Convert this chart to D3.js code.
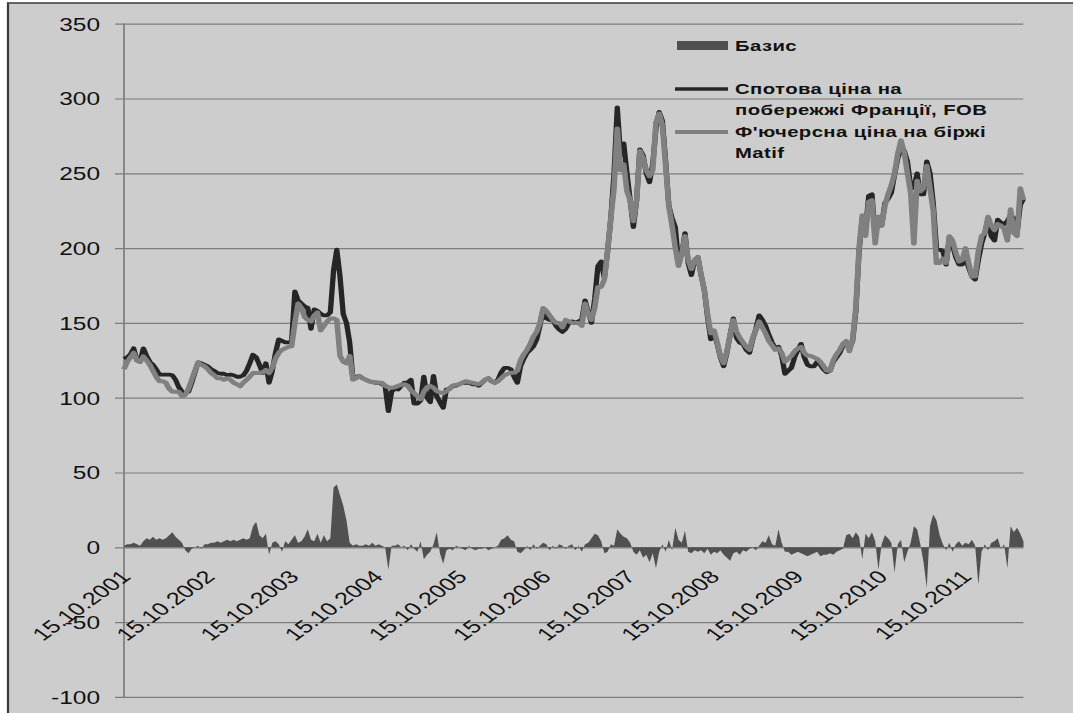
<!DOCTYPE html>
<html>
<head>
<meta charset="utf-8">
<script src="https://cdn.jsdelivr.net/npm/d3@7"></script>
<style>
  html, body { margin: 0; padding: 0; background: #ffffff; overflow: hidden; }
  svg { display: block; }
</style>
</head>
<body>
<svg id="chart" width="1073" height="713"></svg>
<script>
// Wheat prices, 2001–2012: spot FOB (French coast), Matif futures and basis.
// Observations every 14 days starting on 15.10.2001.
const startDate = "15.10.2001";
const stepDays = 14;

const spotFOB = [
  126, 127, 129, 133, 125, 124, 133, 128, 124, 122,
  119, 115.4, 115.4, 115.4, 115.4, 115, 112, 107, 104, 103,
  104, 110, 117, 123.6, 123, 122, 121, 119, 118, 116.5,
  116, 116, 115, 115.4, 115, 114, 114, 115, 118, 123,
  128.7, 127, 122, 116.5, 123, 110, 118, 130, 139, 138,
  137, 137, 137.6, 171, 165, 163, 161, 160, 146, 159,
  158, 156, 155, 155, 157, 185, 199, 181, 156, 150,
  137, 113, 114, 114.5, 113, 112, 111, 110.5, 110, 110,
  109, 108, 91, 104, 106, 105.5, 108, 110, 110, 112,
  96, 96, 98, 114, 100, 97, 114.5, 101, 97, 93.3,
  105.5, 106, 108, 108, 109, 110, 110, 110, 109, 109,
  108, 110, 112, 113, 111, 110, 112, 117, 120, 120,
  119, 114, 110, 121, 126, 130, 132, 134.4, 139, 148,
  159, 153, 152, 152, 148, 145.6, 144, 146, 150, 151,
  150, 151, 152, 165, 157, 150, 166, 188, 191, 180,
  198, 220, 250, 294, 262, 270, 250, 232, 214, 232,
  266, 262, 250, 244, 256, 280, 291, 285, 258, 228,
  220, 214, 190, 196, 210, 190, 182, 192, 194, 182,
  172, 154, 139, 143, 136, 127, 121, 130, 142, 153,
  140, 136.7, 136, 132, 130, 139, 146, 155, 152, 148,
  142, 137, 133, 134, 128, 116, 118, 120, 127, 132,
  136, 127, 122, 121, 121, 124, 122, 119, 117, 118,
  124, 127, 130, 135, 137, 133, 138, 158, 198, 220,
  212, 235, 236, 207, 221, 215, 230, 233, 237, 249,
  260, 266, 265, 258, 241, 240, 250, 236, 236, 258,
  250, 230, 200, 199, 198, 189, 207, 202, 194, 189,
  189, 194, 187, 181, 179, 192, 203, 210, 219, 208,
  205, 219, 217, 216, 218, 222, 220, 210, 229, 233
];

const futuresMatif = [
  119, 124, 127, 130, 125, 124, 127.6, 125, 122, 118,
  114, 111, 111, 110, 106, 104, 104, 104, 101, 102,
  106, 112, 118, 123.6, 122, 121, 119, 116.5, 115, 113,
  113, 112, 113, 112, 110, 109, 107.6, 110, 112, 114,
  116.5, 116.5, 116.5, 117, 118.6, 116.5, 120, 126, 130, 132,
  133, 134, 134.3, 150, 163, 160, 154, 152, 151, 155,
  157, 145, 148, 151, 153, 153, 152, 128, 124, 123,
  128, 112, 113, 114.5, 113, 112, 111, 110.5, 110, 110,
  110, 108, 107, 106.7, 107, 108, 108.5, 109, 108, 105,
  103, 101, 99, 104, 107, 108, 106.7, 104.4, 103.5, 103,
  104.4, 106, 108, 108.5, 109, 110, 111, 110.5, 110, 109.5,
  109, 110, 112, 113, 111, 110, 111, 113, 115, 116,
  116.7, 116.7, 118, 125, 129, 132, 136, 141, 144, 150,
  160, 158, 155, 152, 150, 150, 147, 152, 151, 150,
  150, 150, 148, 163, 156, 152, 160, 174, 174, 179,
  198, 220, 240, 280, 252, 256, 238, 232, 218, 232,
  265, 260, 252, 248, 252, 284, 290, 282, 255, 228,
  215, 200, 188, 196, 208, 192, 186, 192, 194, 182,
  172, 156, 143, 145, 137, 128, 123, 131, 142, 152,
  144, 140, 137, 134, 132, 140, 145, 151, 147, 143,
  138, 135, 132, 133, 130, 124, 126, 128, 131, 133,
  134, 130, 128, 128, 127, 126, 124, 121, 118, 118,
  125, 129, 132, 136, 138, 131, 139, 160, 200, 222,
  208, 231, 232, 203, 221, 215, 228, 236, 242, 250,
  263, 272, 264, 250, 237, 203, 245, 238, 240, 255,
  240, 225, 190, 190, 193, 190, 208, 205, 197, 191,
  192, 200, 190, 181, 181, 198, 208, 210, 221, 215,
  212, 216, 215, 213, 205, 226, 210, 208, 240, 232
];

const basisValues = [
  1, 2, 2, 3, 2, 1, 4, 6, 5, 7,
  5, 6, 5, 6, 8, 10, 7, 5, 3, -2,
  -4, -1, 0, 1, -1, 2, 2, 3, 3, 4,
  3, 4, 5, 4, 5, 4, 5, 6, 5, 6,
  14, 17, 8, 6, 9, -5, 3, 4, 2, -3,
  4, 2, 5, 8, 3, 4, 7, 12, 5, 4,
  9, 3, 8, 4, 6, 40, 42, 35, 28, 18,
  3, 1, 2, 1, 1, 2, 1, 3, 1, 2,
  1, 0, -15, 1, 1, 2, 0, 1, -2, 2,
  -1, -3, 4, -8, -5, -3, 2, 10, -4, -11,
  -2, -1, -2, 1, 0, -1, -2, 1, -1, -2,
  -1, -1, 0, -2, -1, 0, 1, 5, 6, 8,
  5, 4, -3, -4, -2, 1, -2, 2, -1, 1,
  3, 2, -2, 1, -1, 2, 1, -1, 1, 2,
  -2, 1, -3, 2, 3, 6, 9, 8, 4, -4,
  -3, 2, 1, 12, 9, 7, 6, 3, -3, -5,
  -2, -7, -5, -10, -4, -14, -3, 2, -3, 5,
  -2, 13, 5, 3, 11, -3, -4, -2, -3, -2,
  -4, -1, -5, -3, -4, -2, -5, -7, -9, -4,
  -3, -5, -2, -3, -1, 0, -2, 1, 4, 3,
  8, 2, 1, 12, 3, -3, -3, -5, -4, -3,
  -4, -5, -6, -5, -4, -3, -6, -5, -5, -4,
  -5, -3, -2, -1, 8, 9, 6, 10, 7, -8,
  9, 6, 10, 4, -15, 2, 8, 6, 3, -17,
  2, 5, -10, -3, 3, 14, 12, 2, -10, -27,
  14, 22, 18, 8, 2, -2, 3, -3, 2, 4,
  1, 3, 2, 5, 1, -25, -3, 2, -2, 3,
  4, 6, -1, 2, -14, 14, 10, 13, 9, 4
];

const yTickValues = [-100, -50, 0, 50, 100, 150, 200, 250, 300, 350];
const xTickLabels = [
  "15.10.2001", "15.10.2002", "15.10.2003", "15.10.2004", "15.10.2005", "15.10.2006",
  "15.10.2007", "15.10.2008", "15.10.2009", "15.10.2010", "15.10.2011"
];
const seriesNames = ["Базис", "Спотова ціна на побережжі Франції, FOB", "Ф'ючерсна ціна на біржі Matif"];
const seriesColors = ["#505050", "#262626", "#808080"];

// The figure is laid out in a horizontally squeezed frame that the viewBox widens by SX.
const SX = 1.4;
const W = 1073, H = 713;
const VW = W / SX;
const px = v => v / SX;

const parseDay = d3.utcParse("%d.%m.%Y");
const t0 = parseDay(startDate);
const dates = spotFOB.map((_, i) => d3.utcDay.offset(t0, i * stepDays));

const svg = d3.select("#chart")
  .attr("viewBox", `0 0 ${VW} ${H}`)
  .attr("preserveAspectRatio", "none");

const FONT = "'Liberation Sans', Arial, sans-serif";

// frame
svg.append("rect")
  .attr("x", px(8)).attr("y", 3)
  .attr("width", VW - px(8)).attr("height", H - 3)
  .attr("fill", "#cdcdcd");
svg.append("path")
  .attr("d", `M${px(8)},${H} V3 H${VW}`)
  .attr("fill", "none").attr("stroke", "#3a3a3a").attr("stroke-width", 1.6);

const left = px(124), right = px(1023.5);
const x = d3.scaleUtc().domain([dates[0], dates[dates.length - 1]]).range([left, right]);
const y = d3.scaleLinear().domain([-100, 350]).range([696.9, 23.7]);

// horizontal gridlines and value labels
const yAxis = svg.append("g")
  .attr("transform", `translate(${px(115)},0)`)
  .call(d3.axisLeft(y).tickValues(yTickValues)
    .tickSize(-(right - px(115))).tickPadding(px(15)).tickFormat(d => String(d)));
yAxis.select(".domain").remove();
yAxis.selectAll(".tick line").attr("stroke", "#7c7c7c").attr("stroke-width", 1.2);
yAxis.selectAll(".tick text")
  .attr("font-family", FONT).attr("font-size", 17.5).attr("fill", "#111")
  .attr("dy", "0.36em");

// vertical value axis
svg.append("line")
  .attr("x1", left).attr("x2", left)
  .attr("y1", y(350)).attr("y2", y(-100))
  .attr("stroke", "#7c7c7c").attr("stroke-width", 1.2);

// basis (area around zero)
const basisArea = d3.area()
  .x((d, i) => x(dates[i]))
  .y0(y(0))
  .y1(d => y(d));
svg.append("path")
  .datum(basisValues)
  .attr("d", basisArea)
  .attr("fill", seriesColors[0]);

// price lines
const priceLine = d3.line().x((d, i) => x(dates[i])).y(d => y(d));
svg.append("path")
  .datum(spotFOB)
  .attr("d", priceLine)
  .attr("fill", "none").attr("stroke", seriesColors[1])
  .attr("stroke-width", 3.8).attr("stroke-linejoin", "round");
svg.append("path")
  .datum(futuresMatif)
  .attr("d", priceLine)
  .attr("fill", "none").attr("stroke", seriesColors[2])
  .attr("stroke-width", 4).attr("stroke-linejoin", "round");

// date labels, rotated
const xl = svg.append("g");
xTickLabels.forEach(lbl => {
  const d = parseDay(lbl);
  xl.append("text")
    .attr("transform", `translate(${x(d) + px(8)},${578}) rotate(-45)`)
    .attr("text-anchor", "end")
    .attr("font-family", FONT).attr("font-size", 18).attr("fill", "#111")
    .text(lbl);
});

// legend
const lg = svg.append("g").attr("font-family", FONT).attr("font-weight", "bold")
  .attr("font-size", 14.5).attr("letter-spacing", 0.3).attr("fill", "#111");
lg.append("rect")
  .attr("x", px(677)).attr("y", 41).attr("width", px(728) - px(677)).attr("height", 9)
  .attr("fill", seriesColors[0]);
lg.append("text").attr("x", px(735)).attr("y", 51).text(seriesNames[0]);

lg.append("line")
  .attr("x1", px(675)).attr("x2", px(728)).attr("y1", 89).attr("y2", 89)
  .attr("stroke", seriesColors[1]).attr("stroke-width", 3.6);
lg.append("text").attr("x", px(735)).attr("y", 94).text("Спотова ціна на");
lg.append("text").attr("x", px(735)).attr("y", 115).text("побережжі Франції, FOB");

lg.append("line")
  .attr("x1", px(675)).attr("x2", px(728)).attr("y1", 132).attr("y2", 132)
  .attr("stroke", seriesColors[2]).attr("stroke-width", 4);
lg.append("text").attr("x", px(735)).attr("y", 137).text("Ф'ючерсна ціна на біржі");
lg.append("text").attr("x", px(735)).attr("y", 158).text("Matif");
</script>
</body>
</html>
